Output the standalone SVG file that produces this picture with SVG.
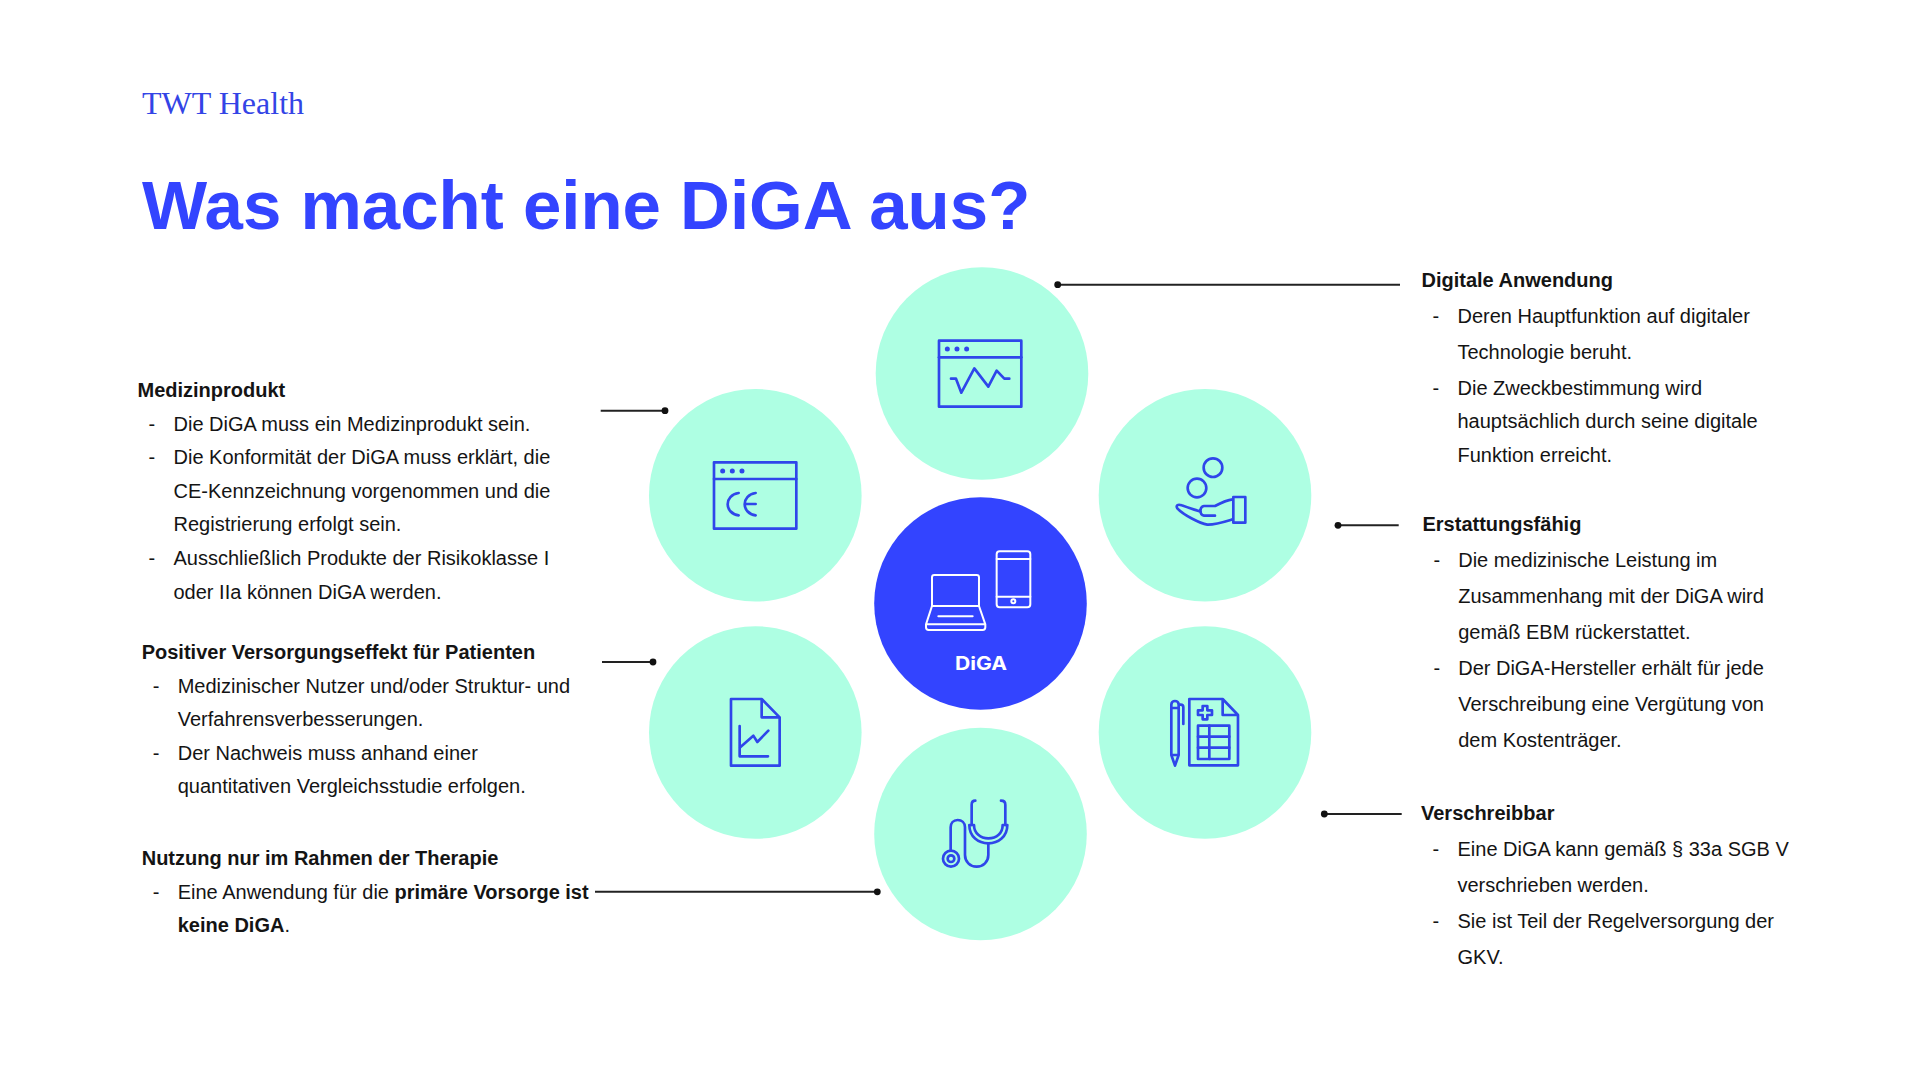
<svg xmlns="http://www.w3.org/2000/svg" width="1920" height="1080" viewBox="0 0 1920 1080">
<style>
text{font-family:"Liberation Sans",Arial,sans-serif;fill:#141414}
.b{font-size:20px}
.h{font-size:20px;font-weight:700}
.bold{font-weight:700}
.mint{fill:#aeffe3}
.ic{fill:none;stroke:#2f46ea;stroke-width:8;stroke-linejoin:round;stroke-linecap:round}
.icw{fill:none;stroke:#fff;stroke-width:6;stroke-linejoin:round;stroke-linecap:round}
.dt{fill:#2f46ea}
.cn{stroke:#222;stroke-width:2;fill:none}
</style>
<defs>
<marker id="dot" viewBox="-4 -4 8 8" markerWidth="8" markerHeight="8" markerUnits="userSpaceOnUse" orient="auto"><circle r="3.4" fill="#111"/></marker>
</defs>
<rect width="1920" height="1080" fill="#fff"/>
<text id="brand" x="142" y="114" style="font-family:'Liberation Serif',serif;font-size:32px;fill:#3344e6">TWT Health</text>
<text id="title" x="142" y="228.5" style="font-size:69px;font-weight:700;fill:#3344ff">Was macht eine DiGA aus?</text>

<g id="connectors">
<path class="cn" d="M1400 284.7H1057.7" marker-end="url(#dot)"/>
<path class="cn" d="M600.7 410.7H665" marker-end="url(#dot)"/>
<path class="cn" d="M602 662H653" marker-end="url(#dot)"/>
<path class="cn" d="M595 891.8H877.3" marker-end="url(#dot)"/>
<path class="cn" d="M1398.7 525.3H1338" marker-end="url(#dot)"/>
<path class="cn" d="M1401.7 814H1324.3" marker-end="url(#dot)"/>
</g>

<g id="node-digital">
<circle class="mint" cx="982" cy="373.5" r="106.3"/>
<g transform="translate(860 250) scale(.3333)">
<rect class="ic" x="237" y="272" width="247" height="198"/><path class="ic" d="M237 322H484"/>
<circle class="dt" cx="262" cy="297" r="7.5"/><circle class="dt" cx="291" cy="297" r="7.5"/><circle class="dt" cx="320" cy="297" r="7.5"/>
<path class="ic" d="M273 386H288L304 428L343 355L385 410L410 362L433 386H448"/>
</g>
</g>

<g id="node-medizinprodukt">
<circle class="mint" cx="755.3" cy="495.3" r="106.3"/>
<g transform="translate(640 380) scale(.3333)">
<rect class="ic" x="222" y="247" width="247" height="199"/><path class="ic" d="M222 297H469"/>
<circle class="dt" cx="248" cy="273" r="7.5"/><circle class="dt" cx="277" cy="273" r="7.5"/><circle class="dt" cx="306" cy="273" r="7.5"/>
<path class="ic" d="M296 339C252 345 252 400 296 406M347 339C303 345 303 400 347 406M314 372H347"/>
</g>
</g>

<g id="node-erstattung">
<circle class="mint" cx="1205" cy="495.3" r="106.3"/>
<g transform="translate(1100 380) scale(.3333)">
<circle class="ic" cx="339" cy="263" r="28"/><circle class="ic" cx="291" cy="324" r="28"/>
<rect class="ic" x="400" y="351" width="36" height="77"/>
<path class="ic" d="M398 358C380 360 360 370 345 378H312C298 380 298 405 312 407H345M398 418C375 425 345 435 322 434C300 430 250 405 232 385C226 375 235 372 245 376C262 382 285 390 302 395"/>
</g>
</g>

<g id="node-diga">
<circle cx="980.5" cy="603.5" r="106.3" fill="#3344ff"/>
<g transform="translate(870 490) scale(.3333)">
<rect class="icw" x="380" y="184" width="101" height="168" rx="9"/><path class="icw" d="M380 207H481M380 320H481"/><circle class="icw" cx="430" cy="334" r="6"/>
<path class="icw" d="M186 348V262Q186 255 193 255H320Q327 255 327 262V348M186 348H327L346 403V412Q346 420 338 420H176Q168 420 168 412V403ZM168 403H346M205 379H308"/>
</g>
<text x="981" y="670" text-anchor="middle" textLength="52" lengthAdjust="spacingAndGlyphs" style="font-family:Inter,sans-serif;font-size:18.5px;font-weight:700;fill:#fff">DiGA</text>
</g>

<g id="node-versorgung">
<circle class="mint" cx="755.3" cy="732.5" r="106.3"/>
<g transform="translate(640 620) scale(.3333)">
<path class="ic" d="M273 237H365L419 292V437H273ZM365 237V292H419M299 318V409H384M299 383L340 347L352 366L385 332"/>
</g>
</g>

<g id="node-verschreibbar">
<circle class="mint" cx="1205" cy="732.5" r="106.3"/>
<g transform="translate(1100 620) scale(.3333)">
<path class="ic" d="M268 237H368L414 285V436H268ZM368 237V285H414"/>
<path class="ic" d="M308 258H322V271H336V285H322V298H308V285H294V271H308Z"/>
<rect class="ic" x="294" y="317" width="94" height="100"/><path class="ic" d="M328 317V417M294 350H388M294 383H388"/>
<path class="ic" d="M214 405V254A11 11 0 0 1 236 254V405L225 437L214 405H236M214 264H236M236 254H242Q250 254 250 262V312"/>
</g>
</g>

<g id="node-therapie">
<circle class="mint" cx="980.5" cy="834" r="106.3"/>
<g transform="translate(870 730) scale(.3333)">
<path class="ic" d="M316 212Q305 212 305 224V285M393 212Q406 212 406 224V285"/>
<path class="ic" d="M298 285H312C312 310 332 325 355 325C380 325 398 310 398 285H412C412 320 385 340 355 340C325 340 298 320 298 285Z"/>
<path class="ic" d="M355 340V375C355 395 340 410 320 410C300 410 285 395 285 375V292C285 278 275 270 263 270C250 270 242 280 242 292V362"/>
<circle class="ic" cx="243" cy="386" r="24"/><circle class="ic" cx="243" cy="386" r="10"/>
</g>
</g>

<g id="text-medizinprodukt">
<text class="h" x="137.5" y="397">Medizinprodukt</text>
<text class="b" x="148.5" y="431">-</text><text class="b" x="173.5" y="431">Die DiGA muss ein Medizinprodukt sein.</text>
<text class="b" x="148.5" y="464.3">-</text><text class="b" x="173.5" y="464.3">Die Konformität der DiGA muss erklärt, die</text>
<text class="b" x="173.5" y="498">CE-Kennzeichnung vorgenommen und die</text>
<text class="b" x="173.5" y="531.4">Registrierung erfolgt sein.</text>
<text class="b" x="148.5" y="565">-</text><text class="b" x="173.5" y="565">Ausschließlich Produkte der Risikoklasse I</text>
<text class="b" x="173.5" y="599">oder IIa können DiGA werden.</text>
</g>
<g id="text-versorgung">
<text class="h" x="141.7" y="659.2">Positiver Versorgungseffekt für Patienten</text>
<text class="b" x="152.7" y="692.8">-</text><text class="b" x="177.7" y="692.8">Medizinischer Nutzer und/oder Struktur- und</text>
<text class="b" x="177.7" y="726.4">Verfahrensverbesserungen.</text>
<text class="b" x="152.7" y="760">-</text><text class="b" x="177.7" y="760">Der Nachweis muss anhand einer</text>
<text class="b" x="177.7" y="793.4">quantitativen Vergleichsstudie erfolgen.</text>
</g>
<g id="text-therapie">
<text class="h" x="141.7" y="865">Nutzung nur im Rahmen der Therapie</text>
<text class="b" x="152.7" y="898.6">-</text><text class="b" x="177.7" y="898.6">Eine Anwendung für die <tspan class="bold">primäre Vorsorge ist</tspan></text>
<text class="b" x="177.7" y="932"><tspan class="bold">keine DiGA</tspan>.</text>
</g>
<g id="text-digital">
<text class="h" x="1421.5" y="287">Digitale Anwendung</text>
<text class="b" x="1432.5" y="322.8">-</text><text class="b" x="1457.5" y="322.8">Deren Hauptfunktion auf digitaler</text>
<text class="b" x="1457.5" y="358.8">Technologie beruht.</text>
<text class="b" x="1432.5" y="394.8">-</text><text class="b" x="1457.5" y="394.8">Die Zweckbestimmung wird</text>
<text class="b" x="1457.5" y="428.3">hauptsächlich durch seine digitale</text>
<text class="b" x="1457.5" y="462.3">Funktion erreicht.</text>
</g>
<g id="text-erstattung">
<text class="h" x="1422.5" y="531">Erstattungsfähig</text>
<text class="b" x="1433.5" y="566.8">-</text><text class="b" x="1458.2" y="566.8">Die medizinische Leistung im</text>
<text class="b" x="1458.2" y="602.8">Zusammenhang mit der DiGA wird</text>
<text class="b" x="1458.2" y="638.8">gemäß EBM rückerstattet.</text>
<text class="b" x="1433.5" y="674.8">-</text><text class="b" x="1458.2" y="674.8">Der DiGA-Hersteller erhält für jede</text>
<text class="b" x="1458.2" y="710.8">Verschreibung eine Vergütung von</text>
<text class="b" x="1458.2" y="746.8">dem Kostenträger.</text>
</g>
<g id="text-verschreibbar">
<text class="h" x="1421" y="820">Verschreibbar</text>
<text class="b" x="1432.5" y="855.8">-</text><text class="b" x="1457.5" y="855.8">Eine DiGA kann gemäß § 33a SGB V</text>
<text class="b" x="1457.5" y="891.8">verschrieben werden.</text>
<text class="b" x="1432.5" y="927.8">-</text><text class="b" x="1457.5" y="927.8">Sie ist Teil der Regelversorgung der</text>
<text class="b" x="1457.5" y="963.8">GKV.</text>
</g>
</svg>
